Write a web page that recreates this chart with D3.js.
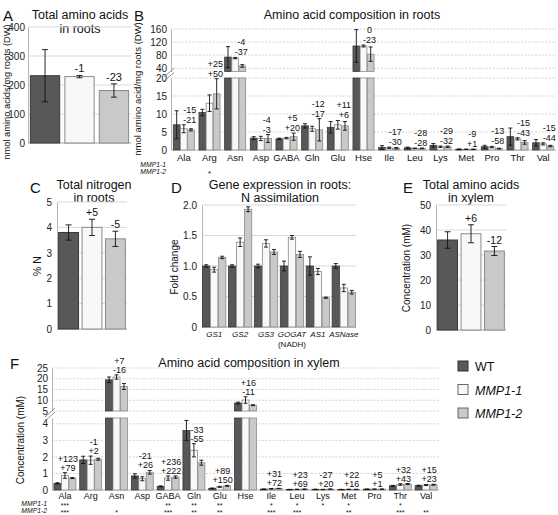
<!DOCTYPE html>
<html><head><meta charset="utf-8">
<script src="https://cdn.jsdelivr.net/npm/d3@7"></script>
<style>body{margin:0;background:#fff}svg{display:block}</style>
</head><body>
<svg id="chart" width="558" height="515"></svg>
<script>
const FONT = '"Liberation Sans", Arial, Helvetica, sans-serif';
const groups = ["WT", "MMP1-1", "MMP1-2"];

// Panel A: total amino acids in roots
const aVals = [232, 229, 181];
const aErrs = [90, 4, 23];
const aPct = ["", "-1", "-23"];
const aTicks = [0, 100, 200, 300, 400];

// Panel B: amino acid composition in roots
const aminoAcids = ["Ala","Arg","Asn","Asp","GABA","Gln","Glu","Hse","Ile","Leu","Lys","Met","Pro","Thr","Val"];
const rootWT  = [7.0, 10.4, 74, 3.3, 3.1, 6.7, 6.3, 108, 0.7, 0.6, 1.3, 0.2, 0.9, 3.7, 2.0];
const rootWTe = [3.9, 0.9, 32, 0.4, 0.2, 0.6, 1.6, 50, 0.5, 0.2, 0.5, 0.1, 0.4, 2.4, 0.9];
const rootM1  = [5.9, 13.0, 71, 3.2, 3.3, 5.9, 7.0, 108, 0.6, 0.45, 0.9, 0.2, 0.8, 3.1, 1.7];
const rootM1e = [1.1, 2.3, 2, 0.6, 0.2, 0.7, 1.2, 3, 0.2, 0.1, 0.2, 0.05, 0.2, 0.3, 0.3];
const rootM2  = [5.6, 15.6, 47, 3.2, 3.7, 5.6, 6.7, 83, 0.5, 0.45, 0.9, 0.2, 0.4, 2.1, 1.1];
const rootM2e = [0.3, 4.2, 4, 1.1, 1.0, 3.1, 1.2, 22, 0.2, 0.1, 0.2, 0.05, 0.1, 0.5, 0.2];
const rootPct1 = ["-15","+25","-4","-4","+5","-12","+11","0","-17","-28","-29","-9","-13","-15","-15"];
const rootPct2 = ["-21","+50","-37","-3","+20","-17","+6","-23","-30","-28","-32","+1","-58","-43","-44"];
const rootSig1 = ["","","","","","","","","","","","","","",""];
const rootSig2 = ["","*","","","","","","","","","","","","",""];
const rootLowTicks = [0, 5, 10, 15, 20];
const rootUpTicks = [40, 80, 120, 160];

// Panel C: total nitrogen in roots
const cVals = [3.8, 4.0, 3.55];
const cErrs = [0.3, 0.32, 0.3];
const cPct = ["", "+5", "-5"];
const cTicks = [0, 1, 2, 3, 4, 5];

// Panel D: gene expression
const genes = ["GS1","GS2","GS3","GOGAT","AS1","ASNase"];
const geneSub = ["","","","(NADH)","",""];
const geneWT  = [1, 1, 1, 1, 1, 1];
const geneWTe = [0.02, 0.02, 0.03, 0.08, 0.15, 0.04];
const geneM1  = [0.94, 1.39, 1.37, 1.47, 0.91, 0.64];
const geneM1e = [0.04, 0.07, 0.06, 0.03, 0.05, 0.06];
const geneM2  = [1.14, 1.93, 1.23, 1.19, 0.48, 0.57];
const geneM2e = [0.02, 0.04, 0.04, 0.05, 0.01, 0.03];
const dTicks = [0, 0.5, 1.0, 1.5, 2.0];

// Panel E: total amino acids in xylem
const eVals = [36, 38.5, 31.6];
const eErrs = [3.3, 3.6, 1.8];
const ePct = ["", "+6", "-12"];
const eTicks = [0, 10, 20, 30, 40, 50];

// Panel F: amino acid composition in xylem
const xyWT  = [0.40, 1.82, 19.5, 0.85, 0.22, 3.6, 0.10, 8.7, 0.05, 0.03, 0.04, 0.03, 0.05, 0.25, 0.26];
const xyWTe = [0.04, 0.22, 1.3, 0.13, 0.03, 0.6, 0.02, 0.4, 0.01, 0.01, 0.01, 0.01, 0.01, 0.03, 0.03];
const xyM1  = [0.88, 1.80, 20.8, 0.68, 0.72, 2.4, 0.19, 10.1, 0.07, 0.04, 0.03, 0.04, 0.05, 0.33, 0.30];
const xyM1e = [0.17, 0.25, 1.0, 0.12, 0.13, 0.4, 0.03, 1.5, 0.02, 0.01, 0.01, 0.01, 0.01, 0.05, 0.03];
const xyM2  = [0.72, 1.86, 16.4, 1.07, 0.78, 1.65, 0.25, 7.7, 0.09, 0.05, 0.05, 0.035, 0.05, 0.36, 0.32];
const xyM2e = [0.03, 0.06, 1.4, 0.11, 0.07, 0.15, 0.03, 0.2, 0.01, 0.01, 0.01, 0.01, 0.01, 0.03, 0.03];
const xyPct1 = ["+123","-1","+7","-21","+236","-33","+89","+16","+31","+23","-27","+22","+5","+32","+15"];
const xyPct2 = ["+79","+2","-16","+26","+222","-55","+150","-11","+72","+69","+20","+16","+1","+43","+23"];
const xySig1 = ["***","","","","**","**","**","","*","*","*","*","","*",""];
const xySig2 = ["***","","*","","***","**","**","","***","***","","**","","***","**"];
const xyLowTicks = [0, 1, 2, 3, 4];
const xyUpTicks = [5, 10, 15, 20, 25];

const fills = ["#585858", "#f8f8f8", "#c9c9c9"];
const strokes = ["#383838", "#8a8a8a", "#8a8a8a"];

const svg = d3.select("#chart").attr("font-family", FONT);

function text(x, y, s, o = {}) {
  const t = svg.append("text").attr("x", x).attr("y", y).text(s)
    .attr("font-size", o.fs || 12).attr("fill", o.fill || "#111")
    .attr("text-anchor", o.anchor || "start");
  if (o.italic) t.attr("font-style", "italic");
  if (o.rotate) t.attr("transform", `rotate(-90,${x},${y})`);
  return t;
}

function errBar(g, cx, yTop, yBot, w) {
  g.append("line").attr("x1", cx).attr("x2", cx).attr("y1", yTop).attr("y2", yBot).attr("stroke", "#111").attr("stroke-width", 0.9);
  g.append("line").attr("x1", cx - w/2).attr("x2", cx + w/2).attr("y1", yTop).attr("y2", yTop).attr("stroke", "#111").attr("stroke-width", 0.9);
  g.append("line").attr("x1", cx - w/2).attr("x2", cx + w/2).attr("y1", yBot).attr("y2", yBot).attr("stroke", "#111").attr("stroke-width", 0.9);
}

function simplePanel(p) {
  const g = svg.append("g");
  const x = d3.scaleBand().domain(groups).range(p.xr).paddingInner(0.15).paddingOuter(0.07);
  const y = d3.scaleLinear().domain(p.yd).range(p.yr);
  g.selectAll(".grid").data(p.ticks).join("line")
    .attr("x1", p.xr[0]).attr("x2", p.xr[1])
    .attr("y1", d => y(d)).attr("y2", d => y(d)).attr("stroke", "#dadada");
  const ax = g.append("g").attr("transform", `translate(${p.xr[0]},0)`)
    .call(d3.axisLeft(y).tickValues(p.ticks).tickSize(0).tickPadding(p.tp || 5).tickFormat(p.fmt || d3.format("d")));
  ax.attr("font-family", FONT).attr("font-size", p.fs);
  ax.select(".domain").attr("stroke", "#b5b5b5");
  ax.selectAll("text").attr("fill", "#222");
  g.append("line").attr("x1", p.xr[0]).attr("x2", p.xr[1]).attr("y1", y(0)).attr("y2", y(0)).attr("stroke", "#b5b5b5");
  g.selectAll(".bar").data(p.vals).join("rect")
    .attr("x", (d, i) => x(groups[i])).attr("width", x.bandwidth())
    .attr("y", d => y(d)).attr("height", d => y(0) - y(d))
    .attr("fill", (d, i) => fills[i]).attr("stroke", (d, i) => strokes[i]);
  p.vals.forEach((v, i) => {
    const cx = x(groups[i]) + x.bandwidth() / 2;
    errBar(g, cx, y(v + p.errs[i]), y(v - p.errs[i]), 6);
    if (p.pct[i]) text(cx + (p.pdx || 0), y(v + p.errs[i]) - 3, p.pct[i], {fs: p.pfs, anchor: "middle"});
  });
  return {x, y};
}

function brokenPanel(p) {
  const g = svg.append("g");
  const x0 = d3.scaleBand().domain(p.cats).range(p.xr).paddingInner(p.pad).paddingOuter(p.pad / 2);
  const x1 = d3.scaleBand().domain(groups).range([0, x0.bandwidth()]).paddingInner(0.06);
  const yl = d3.scaleLinear().domain(p.low.d).range(p.low.r);
  const yu = d3.scaleLinear().domain(p.up.d).range(p.up.r);
  const lowMax = p.low.d[1], upMin = p.up.d[0];
  const yv = v => v <= lowMax ? yl(v) : yu(Math.max(v, upMin));
  const gl = [...p.lowTicks.filter(t => t > 0).map(t => yl(t)), ...p.upTicks.map(t => yu(t))];
  g.selectAll(".grid").data(gl).join("line")
    .attr("x1", p.xr[0]).attr("x2", p.xr[1]).attr("y1", d => d).attr("y2", d => d)
    .attr("stroke", "#d4d4d4").attr("stroke-dasharray", "2,1.5");
  [[yl, p.lowTicks], [yu, p.upTicks]].forEach(([sc, tk]) => {
    const ax = g.append("g").attr("transform", `translate(${p.xr[0]},0)`)
      .call(d3.axisLeft(sc).tickValues(tk).tickSize(0).tickPadding(4).tickFormat(d3.format("d")));
    ax.attr("font-family", FONT).attr("font-size", p.fs);
    ax.select(".domain").attr("stroke", "#b5b5b5");
    ax.selectAll("text").attr("fill", "#222");
  });
  g.append("line").attr("x1", p.xr[0]).attr("x2", p.xr[1]).attr("y1", yl(0)).attr("y2", yl(0)).attr("stroke", "#b5b5b5");
  const bx = p.xr[0], byLow = yl(lowMax), byUp = yu(upMin);
  [0, 4].forEach(off => {
    g.append("line").attr("x1", bx - 7).attr("x2", bx + 3)
      .attr("y1", byLow + 3 - off).attr("y2", byUp - 3 - off + 4)
      .attr("stroke", "#777").attr("stroke-width", 0.8);
  });
  const series = p.series;
  const rows = p.cats.flatMap((c, i) => groups.map((gn, s) => ({c, i, s, v: series[s][i], e: p.errs[s][i]})));
  g.selectAll(".lo").data(rows).join("rect")
    .attr("x", d => x0(d.c) + x1(groups[d.s])).attr("width", x1.bandwidth())
    .attr("y", d => yl(Math.min(d.v, lowMax))).attr("height", d => yl(0) - yl(Math.min(d.v, lowMax)))
    .attr("fill", d => fills[d.s]).attr("stroke", d => strokes[d.s]).attr("stroke-width", 0.8);
  g.selectAll(".up").data(rows.filter(d => d.v > lowMax)).join("rect")
    .attr("x", d => x0(d.c) + x1(groups[d.s])).attr("width", x1.bandwidth())
    .attr("y", d => yu(d.v)).attr("height", d => yu(upMin) - yu(d.v))
    .attr("fill", d => fills[d.s]).attr("stroke", d => strokes[d.s]).attr("stroke-width", 0.8);
  rows.forEach(d => {
    const cx = x0(d.c) + x1(groups[d.s]) + x1.bandwidth() / 2;
    const bot = d.v > lowMax ? Math.max(d.v - d.e, upMin) : Math.max(d.v - d.e, 0);
    errBar(g, cx, yv(d.v + d.e), yv(bot), 4);
  });
  p.cats.forEach((c, i) => {
    const cx = x0(c) + x0.bandwidth() / 2;
    text(cx, yl(0) + p.catDy, c, {fs: p.cfs, anchor: "middle"});
    const top = Math.min(yv(series[1][i] + p.errs[1][i]), yv(series[2][i] + p.errs[2][i]));
    const lx = cx + p.labDx;
    text(lx, top - 2 - p.lineH, p.pct1[i], {fs: p.pfs, anchor: "middle"});
    text(lx, top - 2, p.pct2[i], {fs: p.pfs, anchor: "middle"});
    if (p.sig1[i]) text(cx, p.sigY[0] + 1.5, p.sig1[i], {fs: p.sfs, anchor: "middle"});
    if (p.sig2[i]) text(cx, p.sigY[1] + 1.5, p.sig2[i], {fs: p.sfs, anchor: "middle"});
  });
  text(p.sigX, p.sigY[0], "MMP1-1", {fs: 6.8, italic: true, anchor: "end"});
  text(p.sigX, p.sigY[1], "MMP1-2", {fs: 6.8, italic: true, anchor: "end"});
}

// ---- Panel A ----
text(3, 21, "A", {fs: 15});
text(80, 19, "Total amino acids", {fs: 12.5, anchor: "middle"});
text(80, 33, "in roots", {fs: 12.5, anchor: "middle"});
simplePanel({vals: aVals, errs: aErrs, pct: aPct, xr: [28, 131], yd: [0, 400], yr: [143, 27], ticks: aTicks, fs: 10, pfs: 11, tp: 3});
text(10, 92, "nmol amino acids/mg roots (DW)", {fs: 9.3, anchor: "middle", rotate: true});

// ---- Panel B ----
text(134, 21, "B", {fs: 15});
text(352, 19, "Amino acid composition in roots", {fs: 12.5, anchor: "middle"});
text(141, 89, "nmol amino acid/mg roots (DW)", {fs: 9.5, anchor: "middle", rotate: true});
brokenPanel({
  cats: aminoAcids, series: [rootWT, rootM1, rootM2], errs: [rootWTe, rootM1e, rootM2e],
  pct1: rootPct1, pct2: rootPct2, sig1: rootSig1, sig2: rootSig2,
  xr: [171, 556], pad: 0.18,
  low: {d: [0, 20], r: [150, 78]}, up: {d: [30, 160], r: [71.5, 29]},
  lowTicks: rootLowTicks, upTicks: rootUpTicks,
  fs: 10, cfs: 9.5, pfs: 9, sfs: 8, lineH: 10, labDx: 6, catDy: 11,
  sigX: 166, sigY: [167, 174]
});

// ---- Panel C ----
text(30, 193, "C", {fs: 15});
text(94, 189, "Total nitrogen", {fs: 12.5, anchor: "middle"});
text(94, 202, "in roots", {fs: 12.5, anchor: "middle"});
simplePanel({vals: cVals, errs: cErrs, pct: cPct, xr: [57, 127], yd: [0, 5], yr: [329, 202], ticks: cTicks, fs: 10, pfs: 10.5});
text(41, 266, "% N", {fs: 10.5, anchor: "middle", rotate: true});

// ---- Panel D ----
(function() {
  text(171, 193, "D", {fs: 15});
  text(280, 189, "Gene expression in roots:", {fs: 12.5, anchor: "middle"});
  text(280, 202, "N assimilation", {fs: 12.5, anchor: "middle"});
  text(178, 267, "Fold change", {fs: 10, anchor: "middle", rotate: true});
  const g = svg.append("g");
  const xr = [202, 356];
  const x0 = d3.scaleBand().domain(genes).range(xr).paddingInner(0.1).paddingOuter(0.02);
  const x1 = d3.scaleBand().domain(groups).range([0, x0.bandwidth()]).paddingInner(0.08);
  const y = d3.scaleLinear().domain([0, 2]).range([327, 205]);
  g.selectAll(".grid").data(dTicks).join("line")
    .attr("x1", xr[0]).attr("x2", xr[1]).attr("y1", d => y(d)).attr("y2", d => y(d)).attr("stroke", "#dadada");
  const ax = g.append("g").attr("transform", `translate(${xr[0]},0)`)
    .call(d3.axisLeft(y).tickValues(dTicks).tickSize(0).tickPadding(5).tickFormat(d => d === 0 ? "0" : d3.format(".1f")(d)));
  ax.attr("font-family", FONT).attr("font-size", 10);
  ax.select(".domain").attr("stroke", "#b5b5b5");
  ax.selectAll("text").attr("fill", "#222");
  g.append("line").attr("x1", xr[0]).attr("x2", xr[1]).attr("y1", y(0)).attr("y2", y(0)).attr("stroke", "#b5b5b5");
  const series = [geneWT, geneM1, geneM2], errs = [geneWTe, geneM1e, geneM2e];
  const rows = genes.flatMap((c, i) => groups.map((gn, s) => ({c, i, s, v: series[s][i], e: errs[s][i]})));
  g.selectAll(".bar").data(rows).join("rect")
    .attr("x", d => x0(d.c) + x1(groups[d.s])).attr("width", x1.bandwidth())
    .attr("y", d => y(d.v)).attr("height", d => y(0) - y(d.v))
    .attr("fill", d => fills[d.s]).attr("stroke", d => strokes[d.s]).attr("stroke-width", 0.8);
  rows.forEach(d => {
    const cx = x0(d.c) + x1(groups[d.s]) + x1.bandwidth() / 2;
    errBar(g, cx, y(d.v + d.e), y(d.v - d.e), 4);
  });
  genes.forEach((c, i) => {
    const cx = x0(c) + x0.bandwidth() / 2;
    text(cx, 337, c, {fs: 8, anchor: "middle", italic: true});
    if (geneSub[i]) text(cx, 347, geneSub[i], {fs: 8, anchor: "middle"});
  });
})();

// ---- Panel E ----
text(403, 193, "E", {fs: 15});
text(471, 189, "Total amino acids", {fs: 12.5, anchor: "middle"});
text(471, 202, "in xylem", {fs: 12.5, anchor: "middle"});
simplePanel({vals: eVals, errs: eErrs, pct: ePct, xr: [436, 506], yd: [0, 50], yr: [330, 205], ticks: eTicks, fs: 10, pfs: 10.5});
text(410, 268, "Concentration (mM)", {fs: 10, anchor: "middle", rotate: true});

// ---- Legend ----
groups.forEach((gn, i) => {
  svg.append("rect").attr("x", 458).attr("y", 361 + i * 23.5).attr("width", 10).attr("height", 10)
    .attr("fill", fills[i]).attr("stroke", i === 0 ? "#333" : "#666");
  text(475, 371 + i * 23.5, gn, {fs: 12.5, italic: i > 0});
});

// ---- Panel F ----
text(10, 369, "F", {fs: 15});
text(249, 367, "Amino acid composition in xylem", {fs: 12.5, anchor: "middle"});
text(24, 440, "Concentration (mM)", {fs: 10, anchor: "middle", rotate: true});
brokenPanel({
  cats: aminoAcids, series: [xyWT, xyM1, xyM2], errs: [xyWTe, xyM1e, xyM2e],
  pct1: xyPct1, pct2: xyPct2, sig1: xySig1, sig2: xySig2,
  xr: [52, 439], pad: 0.15,
  low: {d: [0, 4.35], r: [490, 418]}, up: {d: [5, 25], r: [411, 368]},
  lowTicks: xyLowTicks, upTicks: xyUpTicks,
  fs: 10, cfs: 9, pfs: 9, sfs: 7, lineH: 9, labDx: 3, catDy: 8.5,
  sigX: 47, sigY: [506, 513]
});
</script>
</body></html>
